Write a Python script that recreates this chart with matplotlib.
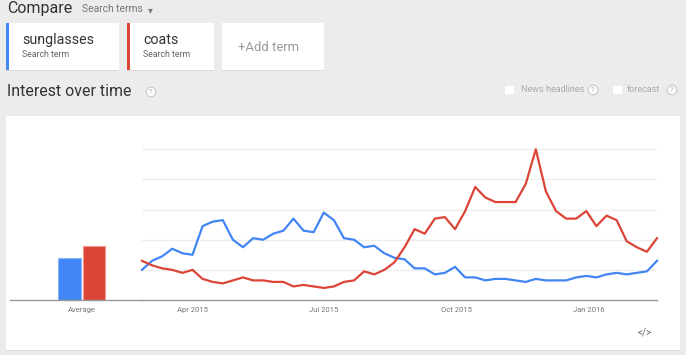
import numpy as np
import matplotlib
matplotlib.use("Agg")
import matplotlib.pyplot as plt
import matplotlib.patches as mpatches

plt.rcParams['font.family'] = ['Roboto', 'DejaVu Sans']

# search terms and colours
terms = ['sunglasses', 'coats']
colors = ['#4285f4', '#db4437']

# weekly interest, Feb 2015 - Feb 2016
sunglasses = [20, 26, 29, 34, 31, 30, 49, 52, 53, 40, 35, 41, 40, 44,
              46, 54, 46, 45, 58, 53, 41, 40, 35, 36, 31, 28,
              27, 21, 21, 17, 18, 22, 15, 15, 13, 14, 14, 13, 12, 14,
              13, 13, 13, 15, 16, 15, 17, 18, 17, 18, 19, 26]
coats = [26, 23, 21, 20, 18, 20, 14, 12, 11, 13, 15, 13, 13, 12,
         12, 9, 10, 9, 8, 9, 12, 13, 19, 17, 20, 25,
         35, 47, 44, 54, 55, 47, 59, 75, 68, 65, 65, 65, 77, 100,
         72, 59, 54, 54, 59, 49, 56, 53, 39, 35, 32, 41]
averages = [28, 36]

weeks = np.datetime64('2015-02-25') + np.arange(len(coats)) * np.timedelta64(7, 'D')
tick_dates = np.array(['2015-04-01', '2015-07-01', '2015-10-01', '2016-01-01'], dtype='datetime64[D]')
tick_labels = ['Apr 2015', 'Jul 2015', 'Oct 2015', 'Jan 2016']

W, H = 686, 355
fig = plt.figure(figsize=(W / 100, H / 100), dpi=100, facecolor='#ececec')

# page furniture in pixel coordinates
bg = fig.add_axes([0, 0, 1, 1], zorder=0)
bg.set_xlim(0, W)
bg.set_ylim(H, 0)
bg.axis('off')

def box(x, y, w, h, fc='white', shadow=True):
    if shadow:
        bg.add_patch(mpatches.Rectangle((x, y + 1), w, h, fc='#d9d9d9', ec='none'))
    bg.add_patch(mpatches.Rectangle((x, y), w, h, fc=fc, ec='none'))

def qmark(x, y):
    bg.add_patch(mpatches.Circle((x, y), 4.8, fc='white', ec='#c8c8c8', lw=0.8))
    bg.text(x, y + 0.3, '?', fontsize=5.5, color='#aaaaaa', ha='center', va='center')

bg.text(7, 8, 'Compare', fontsize=11.5, color='#333333', va='center')
bg.text(82, 9.5, 'Search terms', fontsize=7.4, color='#777777', va='center')
bg.text(148, 10, '▾', fontsize=7, color='#777777', va='center', family=['DejaVu Sans'])

# term cards
box(6, 23, 113, 47)
bg.add_patch(mpatches.Rectangle((6, 23), 3, 47, fc=colors[0], ec='none'))
bg.text(22.5, 40, terms[0], fontsize=10.3, color='#333333', va='center')
bg.text(22.5, 54.5, 'Search term', fontsize=6.3, color='#666666', va='center')

box(127, 23, 87, 47)
bg.add_patch(mpatches.Rectangle((127, 23), 3, 47, fc=colors[1], ec='none'))
bg.text(143, 40, terms[1], fontsize=10.3, color='#333333', va='center')
bg.text(143, 54.5, 'Search term', fontsize=6.3, color='#666666', va='center')

box(222, 23, 102, 47)
bg.text(238, 47.5, '+Add term', fontsize=9.4, color='#999999', va='center')

bg.text(7, 91, 'Interest over time', fontsize=11.4, color='#333333', va='center')
qmark(151, 92)

bg.add_patch(mpatches.Rectangle((505, 86), 9, 8, fc='white', ec='none'))
bg.text(521, 90, 'News headlines', fontsize=6.5, color='#aaaaaa', va='center')
qmark(593, 90)
bg.add_patch(mpatches.Rectangle((613, 86), 9, 8, fc='white', ec='none'))
bg.text(627, 90, 'forecast', fontsize=6.5, color='#aaaaaa', va='center')
qmark(672, 90)

# white chart panel
box(6, 116, 674, 234)
bg.text(645, 332, '</>', fontsize=7, color='#666666', ha='center', va='center')

# chart axes share the same vertical scale
y0, y100 = 300, 149.3
ymax = 110
top = y0 - (y0 - y100) * ymax / 100
bottom_f = (H - y0) / H
height_f = (y0 - top) / H

def px(x):
    return x / W

# averages
axb = fig.add_axes([px(10), bottom_f, px(142 - 10), height_f], zorder=1)
axb.patch.set_alpha(0)
edge = ['#8ab4f8', '#ee9a91']
for i in range(2):
    axb.bar(i, averages[i], width=0.93, color=colors[i], edgecolor=edge[i], linewidth=0.8)
axb.set_xlim(-2.46, 2.975)
axb.set_ylim(0, ymax)
axb.set_xticks([0.5])
axb.set_xticklabels(['Average'])
axb.set_yticks([])

# weekly lines
ax = fig.add_axes([px(142), bottom_f, px(657 - 142), height_f], zorder=1)
ax.patch.set_alpha(0)
for v in [20, 40, 60, 80, 100]:
    ax.axhline(v, color='#eeeeee', lw=1, zorder=0)
ax.plot(weeks, sunglasses, color=colors[0], lw=1.6, zorder=3, clip_on=False)
ax.plot(weeks, coats, color=colors[1], lw=1.6, zorder=3, clip_on=False)
ax.set_xlim(weeks[0], weeks[-1])
ax.set_ylim(0, ymax)
ax.set_xticks(tick_dates)
ax.set_xticklabels(tick_labels)
ax.set_yticks([])

for a in (axb, ax):
    for s in ('top', 'right', 'left'):
        a.spines[s].set_visible(False)
    a.spines['bottom'].set_color('#999999')
    a.spines['bottom'].set_linewidth(1)
    a.tick_params(axis='x', length=0, pad=5, labelsize=5.5, labelcolor='#777777')

fig.savefig('out.png', dpi=100, facecolor=fig.get_facecolor())
